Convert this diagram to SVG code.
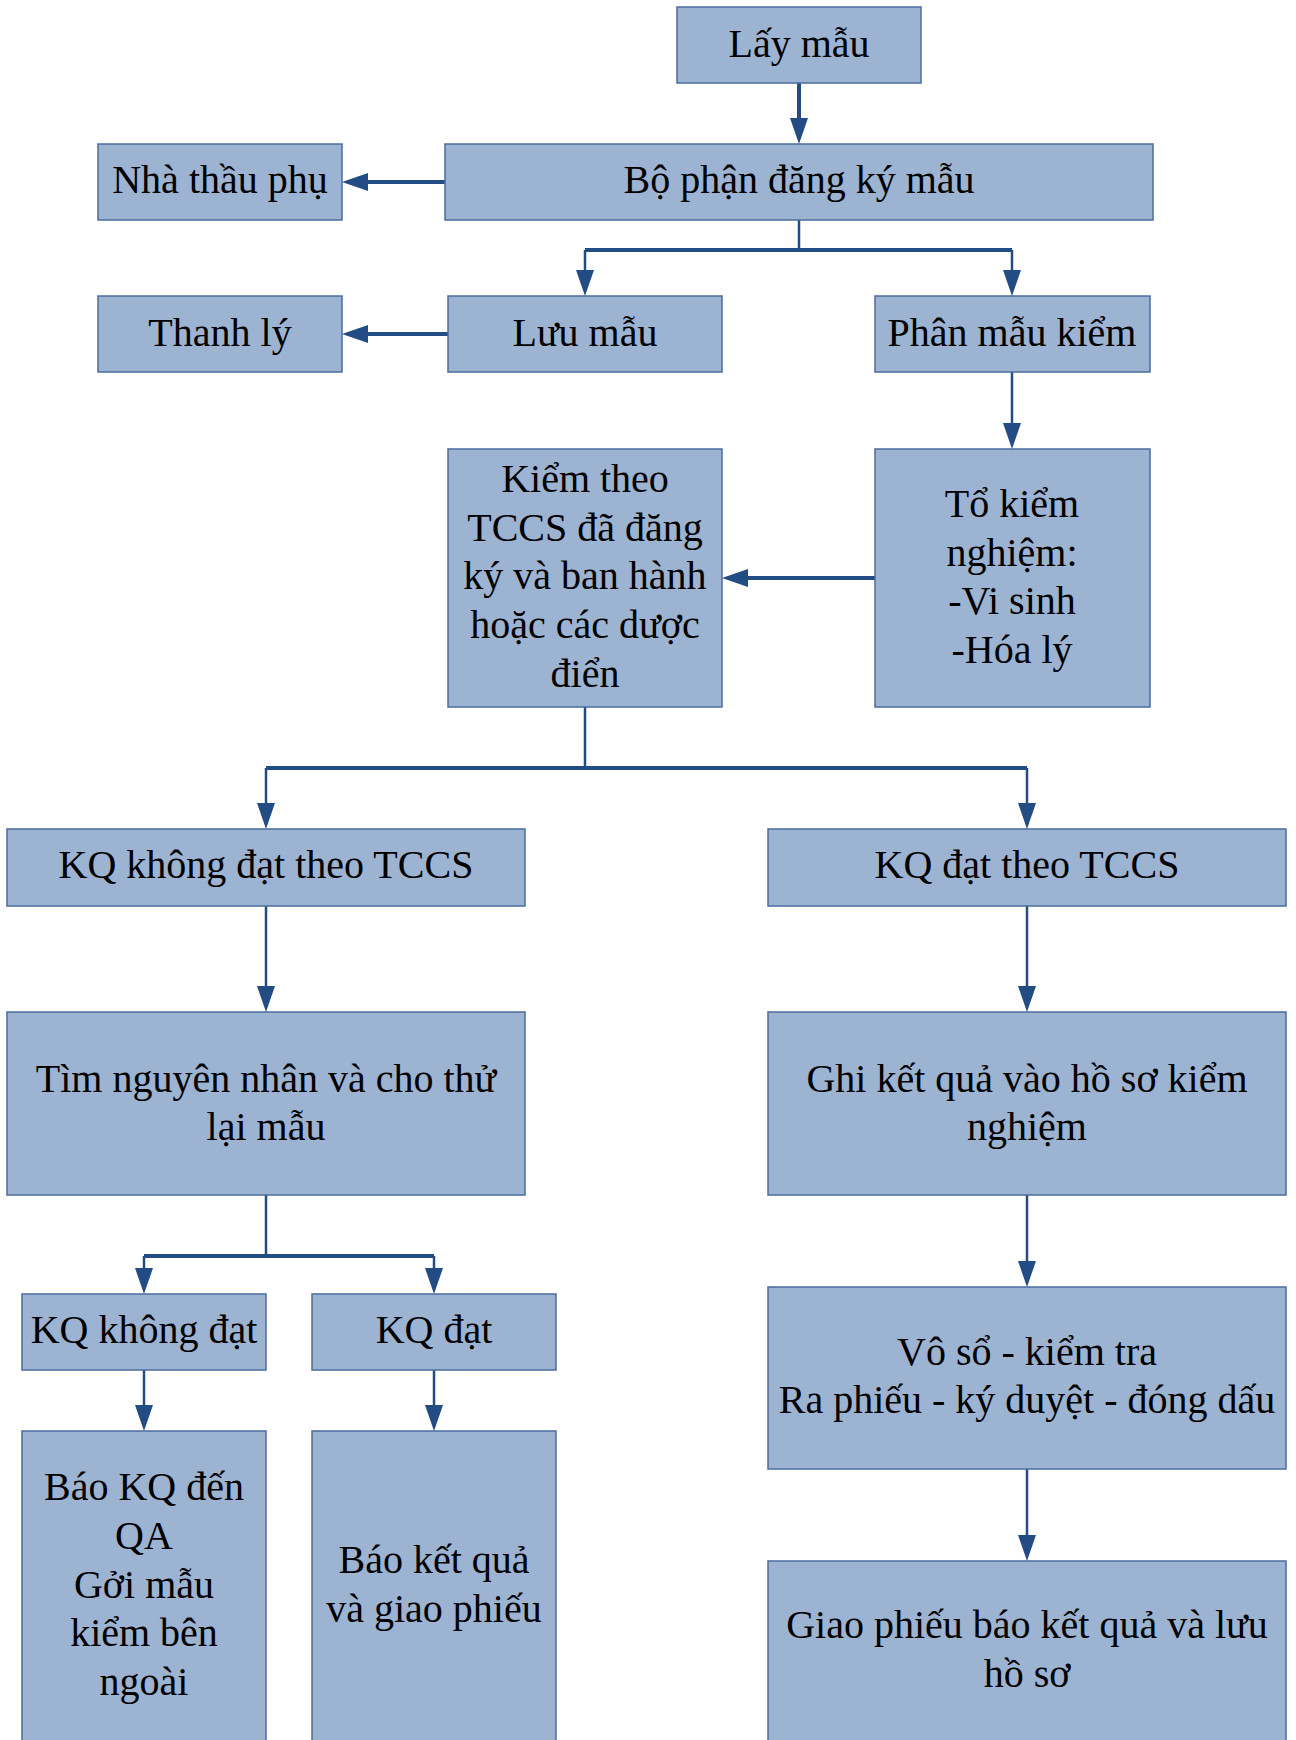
<svg xmlns="http://www.w3.org/2000/svg" width="1296" height="1740" viewBox="0 0 1296 1740">
  <style>
    .box { fill: #9CB3D2; stroke: #4A6C9E; stroke-width: 1.5; }
    .lbl { font-family: 'Liberation Serif', 'Times New Roman', 'DejaVu Serif', serif; font-size: 40px; fill: #000; text-anchor: middle; }
    .thick { fill: none; stroke: #234C84; stroke-width: 4; }
    .thin { fill: none; stroke: #234C84; stroke-width: 2.5; }
  </style>
  <defs>
    <marker id="arrow" viewBox="0 0 26 18" refX="0" refY="9" markerWidth="26" markerHeight="18" markerUnits="userSpaceOnUse" orient="auto">
      <path d="M0,0 L26,9 L0,18 z" fill="#234C84"/>
    </marker>
  </defs>
  <rect width="1296" height="1740" fill="#fff"/>

  <g id="connectors">
    <path class="thick" d="M799,83 V118" marker-end="url(#arrow)"/>
    <path class="thick" d="M445,182 H368" marker-end="url(#arrow)"/>
    <path class="thin" d="M799,220 V250"/>
    <path class="thick" d="M585,250 H1012"/>
    <path class="thin" d="M585,250 V270" marker-end="url(#arrow)"/>
    <path class="thin" d="M1012,250 V270" marker-end="url(#arrow)"/>
    <path class="thick" d="M448,334 H368" marker-end="url(#arrow)"/>
    <path class="thin" d="M1012,372 V423" marker-end="url(#arrow)"/>
    <path class="thick" d="M875,578 H748" marker-end="url(#arrow)"/>
    <path class="thin" d="M585,707 V768"/>
    <path class="thick" d="M266,768 H1027"/>
    <path class="thin" d="M266,768 V803" marker-end="url(#arrow)"/>
    <path class="thin" d="M1027,768 V803" marker-end="url(#arrow)"/>
    <path class="thin" d="M266,906 V986" marker-end="url(#arrow)"/>
    <path class="thin" d="M1027,906 V986" marker-end="url(#arrow)"/>
    <path class="thin" d="M266,1195 V1256"/>
    <path class="thick" d="M144,1256 H434"/>
    <path class="thin" d="M144,1256 V1268" marker-end="url(#arrow)"/>
    <path class="thin" d="M434,1256 V1268" marker-end="url(#arrow)"/>
    <path class="thin" d="M144,1370 V1405" marker-end="url(#arrow)"/>
    <path class="thin" d="M434,1370 V1405" marker-end="url(#arrow)"/>
    <path class="thin" d="M1027,1195 V1261" marker-end="url(#arrow)"/>
    <path class="thin" d="M1027,1469 V1535" marker-end="url(#arrow)"/>
  </g>

  <g font-family="Liberation Serif, Times New Roman, DejaVu Serif, serif">
  <g id="lay-mau">
    <rect class="box" x="677" y="7" width="244" height="76"/>
    <text class="lbl" x="799" y="57">Lấy mẫu</text>
  </g>
  <g id="bo-phan-dang-ky">
    <rect class="box" x="445" y="144" width="708" height="76"/>
    <text class="lbl" x="799" y="193">Bộ phận đăng ký mẫu</text>
  </g>
  <g id="nha-thau-phu">
    <rect class="box" x="98" y="144" width="244" height="76"/>
    <text class="lbl" x="220" y="193">Nhà thầu phụ</text>
  </g>
  <g id="thanh-ly">
    <rect class="box" x="98" y="296" width="244" height="76"/>
    <text class="lbl" x="220" y="346">Thanh lý</text>
  </g>
  <g id="luu-mau">
    <rect class="box" x="448" y="296" width="274" height="76"/>
    <text class="lbl" x="585" y="346">Lưu mẫu</text>
  </g>
  <g id="phan-mau-kiem">
    <rect class="box" x="875" y="296" width="275" height="76"/>
    <text class="lbl" x="1012" y="346">Phân mẫu kiểm</text>
  </g>
  <g id="kiem-theo-tccs">
    <rect class="box" x="448" y="449" width="274" height="258"/>
    <text class="lbl" x="585" y="492">Kiểm theo</text>
    <text class="lbl" x="585" y="541">TCCS đã đăng</text>
    <text class="lbl" x="585" y="589">ký và ban hành</text>
    <text class="lbl" x="585" y="638">hoặc các dược</text>
    <text class="lbl" x="585" y="687">điển</text>
  </g>
  <g id="to-kiem-nghiem">
    <rect class="box" x="875" y="449" width="275" height="258"/>
    <text class="lbl" x="1012" y="517">Tổ kiểm</text>
    <text class="lbl" x="1012" y="566">nghiệm:</text>
    <text class="lbl" x="1012" y="614">-Vi sinh</text>
    <text class="lbl" x="1012" y="663">-Hóa lý</text>
  </g>
  <g id="kq-khong-dat-tccs">
    <rect class="box" x="7" y="829" width="518" height="77"/>
    <text class="lbl" x="266" y="878">KQ không đạt theo TCCS</text>
  </g>
  <g id="kq-dat-tccs">
    <rect class="box" x="768" y="829" width="518" height="77"/>
    <text class="lbl" x="1027" y="878">KQ đạt theo TCCS</text>
  </g>
  <g id="tim-nguyen-nhan">
    <rect class="box" x="7" y="1012" width="518" height="183"/>
    <text class="lbl" x="266" y="1092">Tìm nguyên nhân và cho thử</text>
    <text class="lbl" x="266" y="1140">lại mẫu</text>
  </g>
  <g id="ghi-ket-qua">
    <rect class="box" x="768" y="1012" width="518" height="183"/>
    <text class="lbl" x="1027" y="1092">Ghi kết quả vào hồ sơ kiểm</text>
    <text class="lbl" x="1027" y="1140">nghiệm</text>
  </g>
  <g id="kq-khong-dat">
    <rect class="box" x="22" y="1294" width="244" height="76"/>
    <text class="lbl" x="144" y="1343">KQ không đạt</text>
  </g>
  <g id="kq-dat">
    <rect class="box" x="312" y="1294" width="244" height="76"/>
    <text class="lbl" x="434" y="1343">KQ đạt</text>
  </g>
  <g id="vo-so">
    <rect class="box" x="768" y="1287" width="518" height="182"/>
    <text class="lbl" x="1027" y="1365">Vô sổ - kiểm tra</text>
    <text class="lbl" x="1027" y="1413">Ra phiếu - ký duyệt - đóng dấu</text>
  </g>
  <g id="bao-kq-qa">
    <rect class="box" x="22" y="1431" width="244" height="320"/>
    <text class="lbl" x="144" y="1500">Báo KQ đến</text>
    <text class="lbl" x="144" y="1549">QA</text>
    <text class="lbl" x="144" y="1598">Gởi mẫu</text>
    <text class="lbl" x="144" y="1646">kiểm bên</text>
    <text class="lbl" x="144" y="1695">ngoài</text>
  </g>
  <g id="bao-ket-qua">
    <rect class="box" x="312" y="1431" width="244" height="320"/>
    <text class="lbl" x="434" y="1573">Báo kết quả</text>
    <text class="lbl" x="434" y="1622">và giao phiếu</text>
  </g>
  <g id="giao-phieu">
    <rect class="box" x="768" y="1561" width="518" height="190"/>
    <text class="lbl" x="1027" y="1638">Giao phiếu báo kết quả và lưu</text>
    <text class="lbl" x="1027" y="1687">hồ sơ</text>
  </g>
  </g>
</svg>
